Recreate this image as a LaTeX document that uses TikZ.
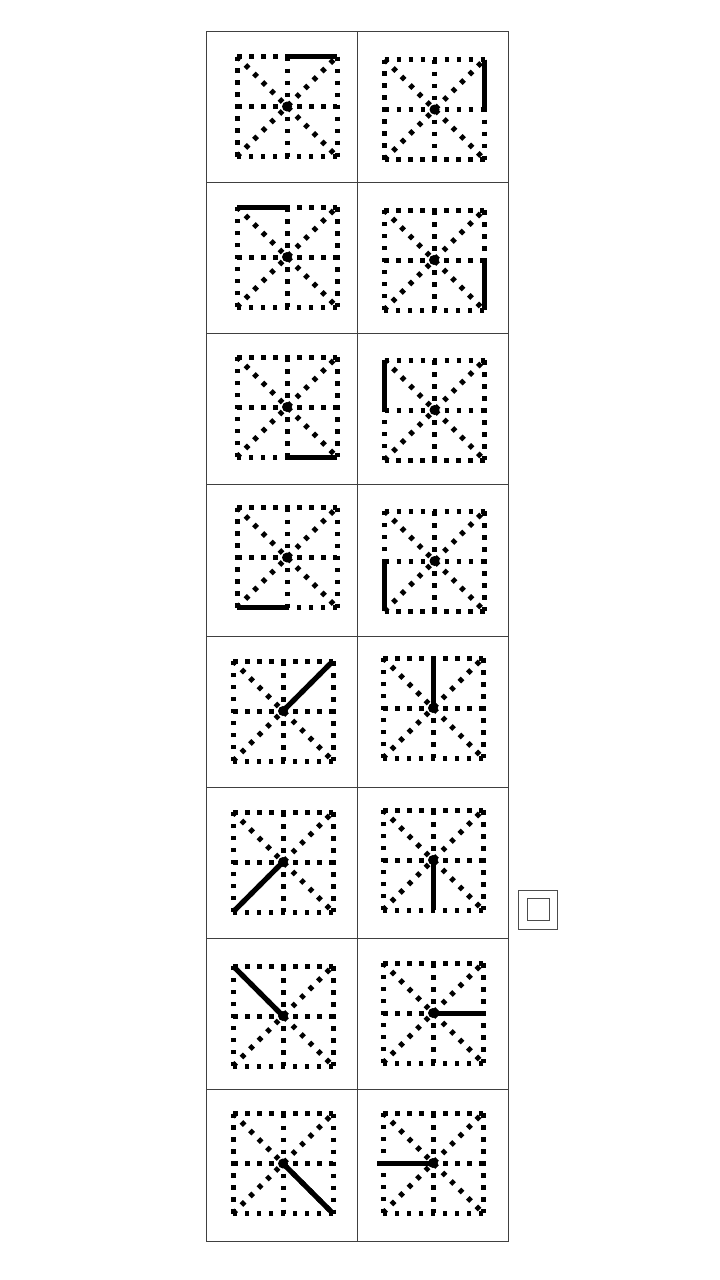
\documentclass[tikz,border=0pt]{standalone}
\begin{document}
\begin{tikzpicture}[x=1pt,y=-1pt,
  dotl/.style={line width=5pt, dash pattern=on 4.5pt off 7.5pt},
  seg/.style={line width=5pt},
  gridl/.style={line width=1pt, draw=black!75}]
\fill[white] (0,0) rectangle (720,1280);
\useasboundingbox (0,0) rectangle (720,1280);
\newcommand\glyphcell[3]{%
  \begin{scope}[shift={(#1,#2)}]
    \draw[dotl] (-50,-50) -- (50,-50);
    \draw[dotl] (50,-50) -- (50,50);
    \draw[dotl] (50,50) -- (-50,50);
    \draw[dotl] (-50,50) -- (-50,-50);
    \draw[dotl] (0,-50) -- (0,50);
    \draw[dotl] (-50,0) -- (50,0);
    \draw[dotl] (-50,-50) -- (50,50);
    \draw[dotl] (-50,50) -- (50,-50);
    \fill (0,0) circle (5);
    \draw[seg] #3;
  \end{scope}}
% table
\draw[gridl] (206,31) rectangle (508,1241);
\draw[gridl] (357,31) -- (357,1241);
\foreach \yy in {182,333,484,636,787,938,1089}
  \draw[gridl] (206,\yy) -- (508,\yy);
% cells
\glyphcell{287}{106.5}{(0,-50)--(50,-50)}
\glyphcell{434.5}{109.5}{(50,-50)--(50,0)}
\glyphcell{287}{257}{(-50,-50)--(0,-50)}
\glyphcell{434}{260}{(50,0)--(50,50)}
\glyphcell{287}{407}{(0,50)--(50,50)}
\glyphcell{434.5}{410}{(-50,-50)--(-50,0)}
\glyphcell{287}{557.5}{(-50,50)--(0,50)}
\glyphcell{434.5}{561}{(-50,0)--(-50,50)}
\glyphcell{283}{711}{(0,0)--(50,-50)}
\glyphcell{433}{708}{(0,0)--(0,-50)}
\glyphcell{283}{862}{(0,0)--(-50,50)}
\glyphcell{433}{860}{(0,0)--(0,50)}
\glyphcell{283}{1016}{(-50,-50)--(0,0)}
\glyphcell{433}{1013}{(0,0)--(50,0)}
\glyphcell{283}{1163.5}{(0,0)--(50,50)}
\glyphcell{433}{1163}{(-56,0)--(0,0)}
% answer box
\draw[line width=1pt, draw=black!70] (518,890) rectangle (557,929);
\draw[line width=1pt, draw=black!70] (527,898) rectangle (549,920);
\end{tikzpicture}
\end{document}
